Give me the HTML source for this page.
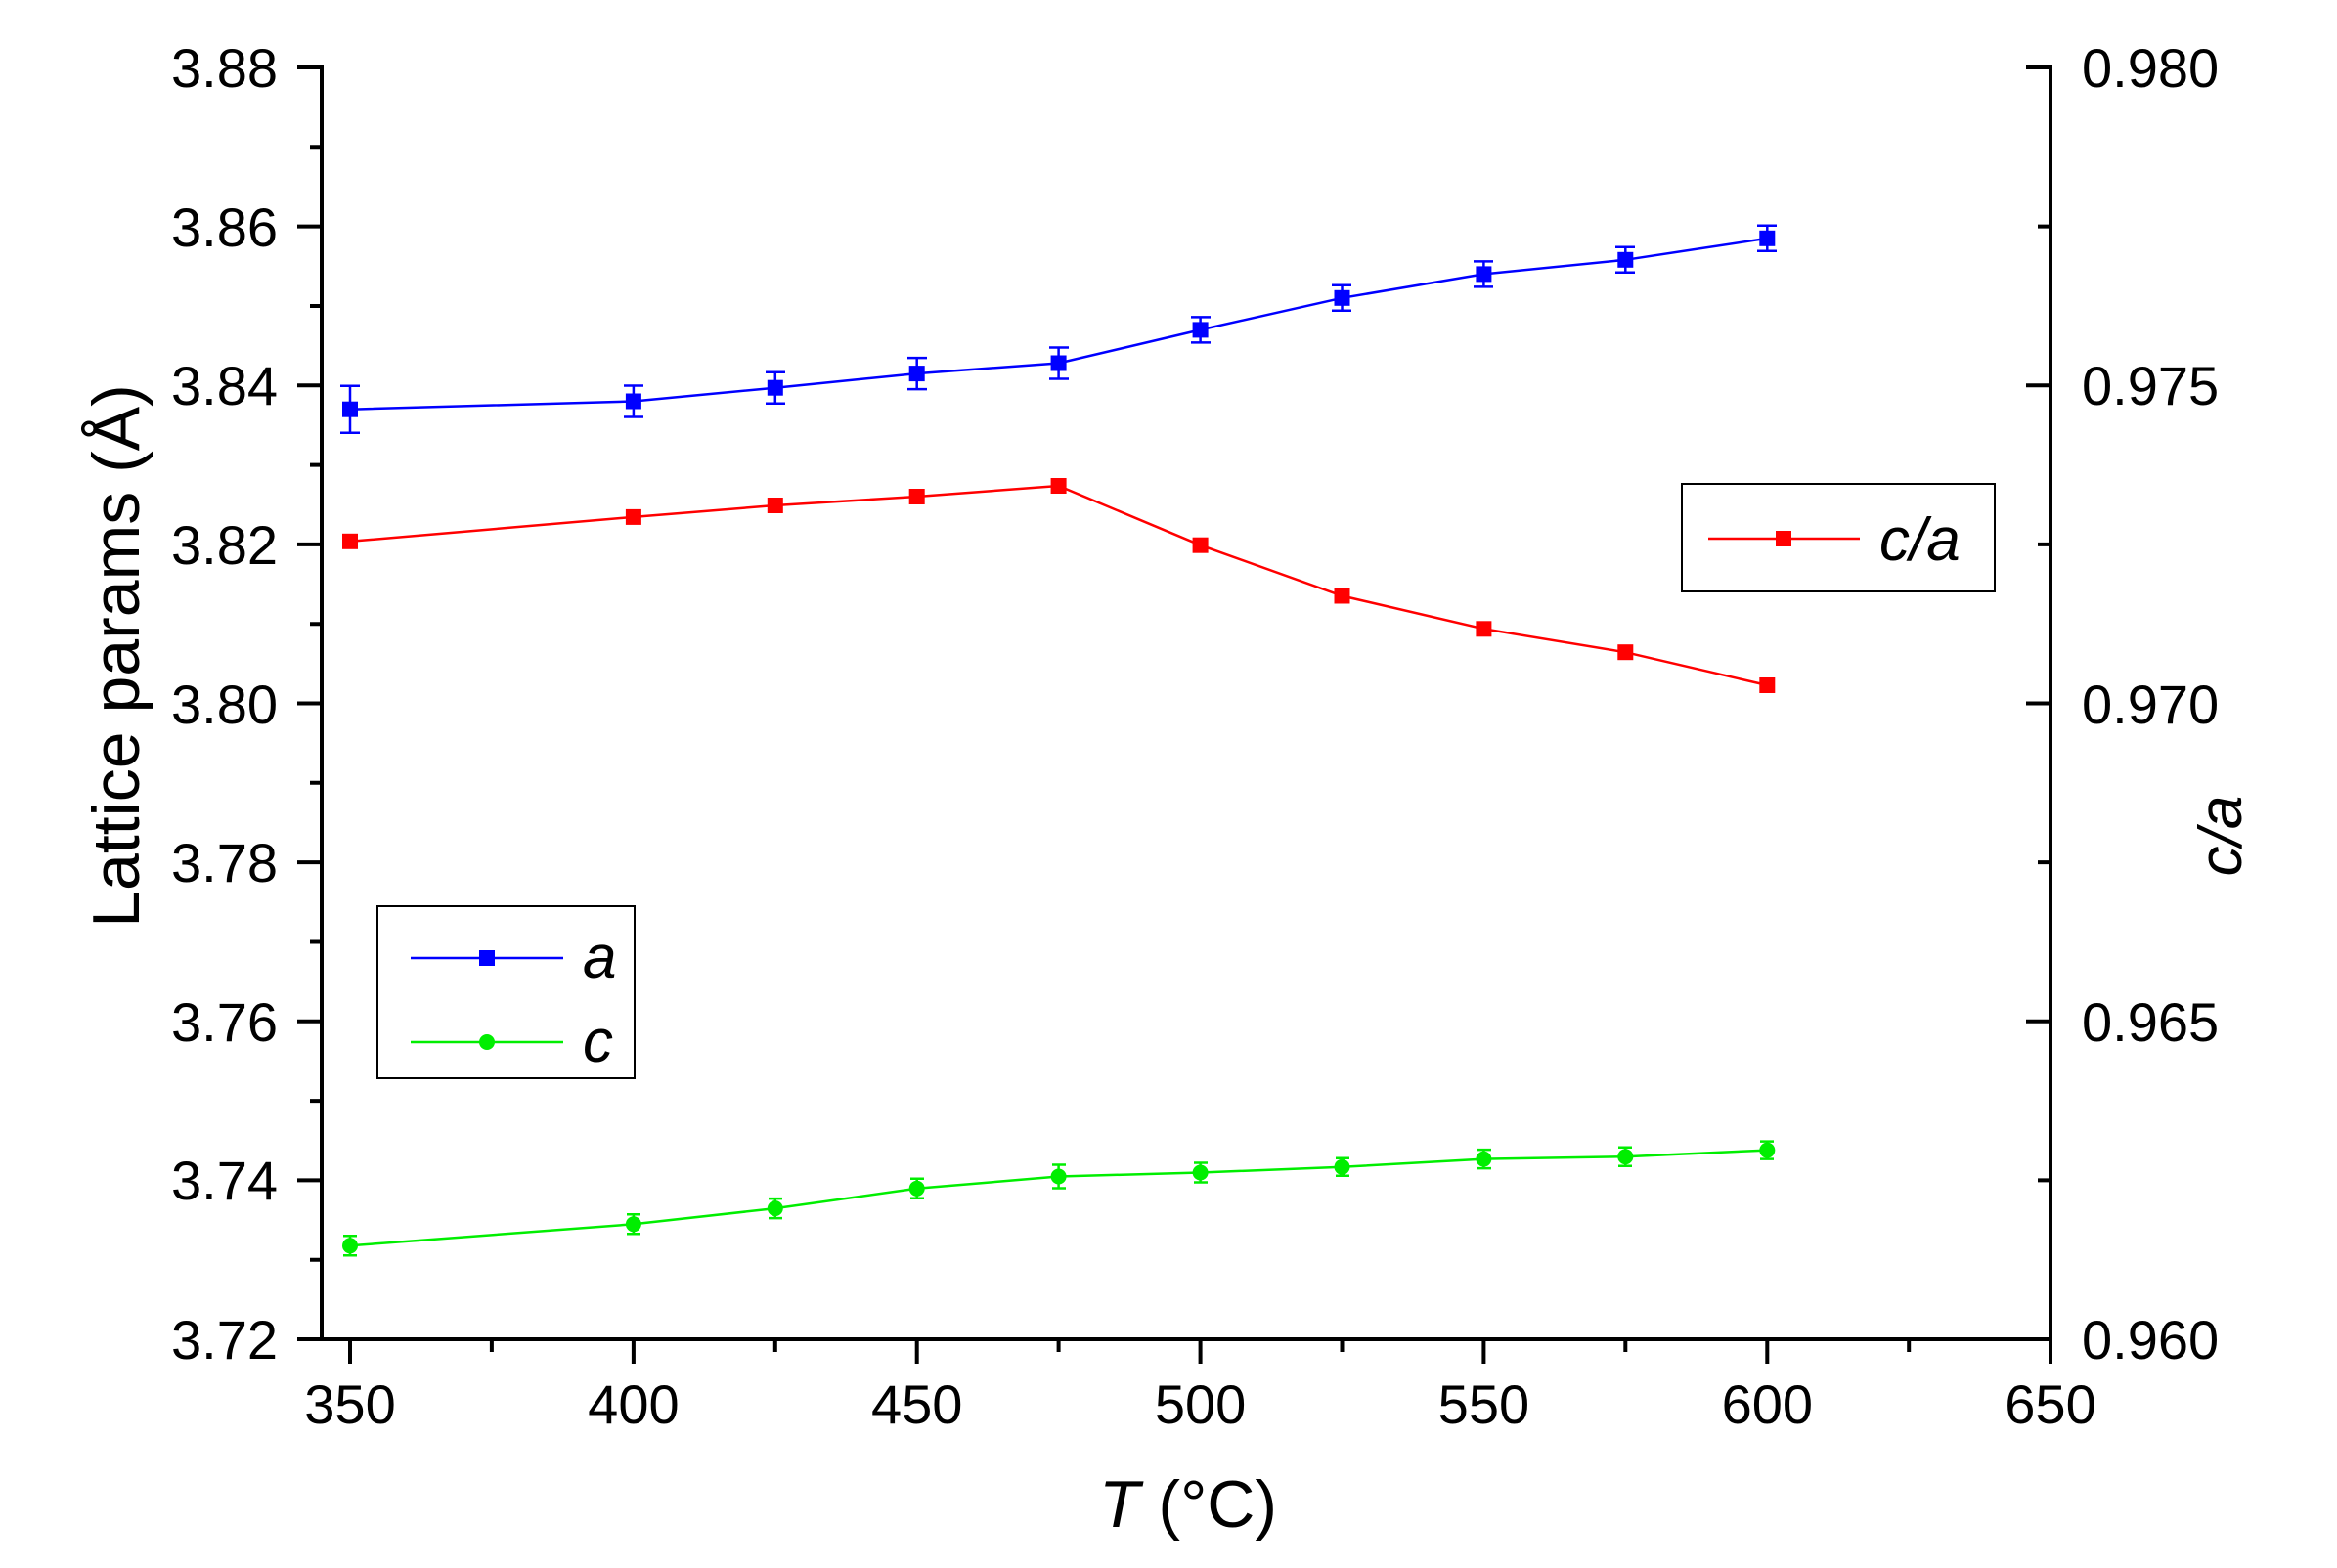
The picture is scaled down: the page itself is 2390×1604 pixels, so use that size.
<!DOCTYPE html>
<html><head><meta charset="utf-8"><style>
html,body{margin:0;padding:0;background:#fff;}
svg{display:block;}
text{font-family:"Liberation Sans",Arial,sans-serif;fill:#000;}
</style></head><body>
<svg width="2390" height="1604" viewBox="0 0 2390 1604" xmlns="http://www.w3.org/2000/svg">
<g stroke="#000" stroke-width="4" fill="none">
<line x1="329" y1="67" x2="329" y2="1372"/>
<line x1="2097" y1="67" x2="2097" y2="1372"/>
<line x1="327" y1="1370" x2="2099" y2="1370"/>
<path d="M304 69H329M304 231.6H329M304 394.3H329M304 556.9H329M304 719.5H329M304 882.1H329M304 1044.8H329M304 1207.4H329M304 1370H329"/>
<path d="M317 150.3H329M317 313H329M317 475.6H329M317 638.2H329M317 800.8H329M317 963.5H329M317 1126.1H329M317 1288.7H329"/>
<path d="M2072 69H2097M2072 394.3H2097M2072 719.5H2097M2072 1044.8H2097"/>
<path d="M2084 231.6H2097M2084 556.9H2097M2084 882.1H2097M2084 1207.4H2097"/>
<path d="M358 1370V1395M647.9 1370V1395M937.7 1370V1395M1227.6 1370V1395M1517.4 1370V1395M1807.3 1370V1395M2097 1370V1395"/>
<path d="M502.9 1370V1383M792.8 1370V1383M1082.6 1370V1383M1372.5 1370V1383M1662.3 1370V1383M1952.2 1370V1383"/>
</g>
<g font-size="56" text-anchor="end">
<text x="284" y="89">3.88</text><text x="284" y="252">3.86</text><text x="284" y="414">3.84</text><text x="284" y="577">3.82</text><text x="284" y="740">3.80</text><text x="284" y="902">3.78</text><text x="284" y="1065">3.76</text><text x="284" y="1227">3.74</text><text x="284" y="1390">3.72</text>
</g>
<g font-size="56" text-anchor="start">
<text x="2129" y="89">0.980</text><text x="2129" y="414">0.975</text><text x="2129" y="740">0.970</text><text x="2129" y="1065">0.965</text><text x="2129" y="1390">0.960</text>
</g>
<g font-size="56" text-anchor="middle">
<text x="358" y="1456">350</text><text x="647.9" y="1456">400</text><text x="937.7" y="1456">450</text><text x="1227.6" y="1456">500</text><text x="1517.4" y="1456">550</text><text x="1807.3" y="1456">600</text><text x="2097" y="1456">650</text>
</g>
<text x="1215" y="1562" font-size="68" text-anchor="middle"><tspan font-style="italic">T</tspan> (°C)</text>
<text transform="translate(142,671) rotate(-90)" font-size="68" text-anchor="middle">Lattice params (Å)</text>
<text transform="translate(2292,855) rotate(-90)" font-size="62" text-anchor="middle" font-style="italic">c/a</text>

<g stroke="#0000ff" stroke-width="2.5" fill="none">
<polyline points="358,418.7 647.9,410.5 792.8,396.7 937.7,382.1 1082.6,371.5 1227.6,337.4 1372.5,304.8 1517.4,280.4 1662.3,265.8 1807.3,243.8"/>
<path d="M358 394.7V442.7M348 394.7H368M348 442.7H368
M647.9 394.5V426.5M638 394.5H658M638 426.5H658
M792.8 380.7V412.7M783 380.7H803M783 412.7H803
M937.7 366.1V398.1M928 366.1H948M928 398.1H948
M1082.6 355.5V387.5M1073 355.5H1093M1073 387.5H1093
M1227.6 324.4V350.4M1218 324.4H1238M1218 350.4H1238
M1372.5 291.8V317.8M1362 291.8H1382M1362 317.8H1382
M1517.4 267.4V293.4M1507 267.4H1527M1507 293.4H1527
M1662.3 252.8V278.8M1652 252.8H1672M1652 278.8H1672
M1807.3 230.8V256.8M1797 230.8H1817M1797 256.8H1817"/>
</g>
<g fill="#0000ff">
<rect x="350" y="410.7" width="16" height="16"/><rect x="639.9" y="402.5" width="16" height="16"/><rect x="784.8" y="388.7" width="16" height="16"/><rect x="929.7" y="374.1" width="16" height="16"/><rect x="1074.6" y="363.5" width="16" height="16"/><rect x="1219.6" y="329.4" width="16" height="16"/><rect x="1364.5" y="296.8" width="16" height="16"/><rect x="1509.4" y="272.4" width="16" height="16"/><rect x="1654.3" y="257.8" width="16" height="16"/><rect x="1799.3" y="235.8" width="16" height="16"/>
</g>

<g stroke="#ff0000" stroke-width="2.5" fill="none">
<polyline points="358,553.8 647.9,528.9 792.8,517 937.7,508 1082.6,497 1227.6,557.7 1372.5,609.5 1517.4,643.3 1662.3,667.2 1807.3,701"/>
</g>
<g fill="#ff0000">
<rect x="350" y="545.8" width="16" height="16"/><rect x="639.9" y="520.9" width="16" height="16"/><rect x="784.8" y="509" width="16" height="16"/><rect x="929.7" y="500" width="16" height="16"/><rect x="1074.6" y="489" width="16" height="16"/><rect x="1219.6" y="549.7" width="16" height="16"/><rect x="1364.5" y="601.5" width="16" height="16"/><rect x="1509.4" y="635.3" width="16" height="16"/><rect x="1654.3" y="659.2" width="16" height="16"/><rect x="1799.3" y="693" width="16" height="16"/>
</g>

<g stroke="#00ee00" stroke-width="2.5" fill="none">
<polyline points="358,1274.3 647.9,1252.3 792.8,1236.1 937.7,1215.8 1082.6,1203.5 1227.6,1199.5 1372.5,1193.8 1517.4,1185.6 1662.3,1183.2 1807.3,1176.6"/>
<path d="M358 1264.3V1284.3M351 1264.3H365M351 1284.3H365
M647.9 1242.3V1262.3M641 1242.3H655M641 1262.3H655
M792.8 1226.1V1246.1M786 1226.1H800M786 1246.1H800
M937.7 1205.8V1225.8M931 1205.8H945M931 1225.8H945
M1082.6 1191.5V1215.5M1076 1191.5H1090M1076 1215.5H1090
M1227.6 1189.5V1209.5M1221 1189.5H1235M1221 1209.5H1235
M1372.5 1184.8V1202.8M1366 1184.8H1380M1366 1202.8H1380
M1517.4 1176.1V1195.1M1511 1176.1H1525M1511 1195.1H1525
M1662.3 1173.7V1192.7M1655 1173.7H1669M1655 1192.7H1669
M1807.3 1167.6V1185.6M1800 1167.6H1814M1800 1185.6H1814"/>
</g>
<g fill="#00ee00">
<circle cx="358" cy="1274.3" r="8"/><circle cx="647.9" cy="1252.3" r="8"/><circle cx="792.8" cy="1236.1" r="8"/><circle cx="937.7" cy="1215.8" r="8"/><circle cx="1082.6" cy="1203.5" r="8"/><circle cx="1227.6" cy="1199.5" r="8"/><circle cx="1372.5" cy="1193.8" r="8"/><circle cx="1517.4" cy="1185.6" r="8"/><circle cx="1662.3" cy="1183.2" r="8"/><circle cx="1807.3" cy="1176.6" r="8"/>
</g>

<rect x="386" y="927" width="263" height="176" fill="#fff" stroke="#000" stroke-width="2"/>
<line x1="420" y1="980" x2="576" y2="980" stroke="#0000ff" stroke-width="2.5"/>
<rect x="490" y="972" width="16" height="16" fill="#0000ff"/>
<text x="596" y="1000" font-size="62" font-style="italic">a</text>
<line x1="420" y1="1066" x2="576" y2="1066" stroke="#00ee00" stroke-width="2.5"/>
<circle cx="498" cy="1066" r="8" fill="#00ee00"/>
<text x="596" y="1086" font-size="62" font-style="italic">c</text>

<rect x="1720" y="495" width="320" height="110" fill="#fff" stroke="#000" stroke-width="2"/>
<line x1="1747" y1="551" x2="1902" y2="551" stroke="#ff0000" stroke-width="2.5"/>
<rect x="1816" y="543" width="16" height="16" fill="#ff0000"/>
<text x="1922" y="573" font-size="62" font-style="italic">c/a</text>
</svg>
</body></html>
